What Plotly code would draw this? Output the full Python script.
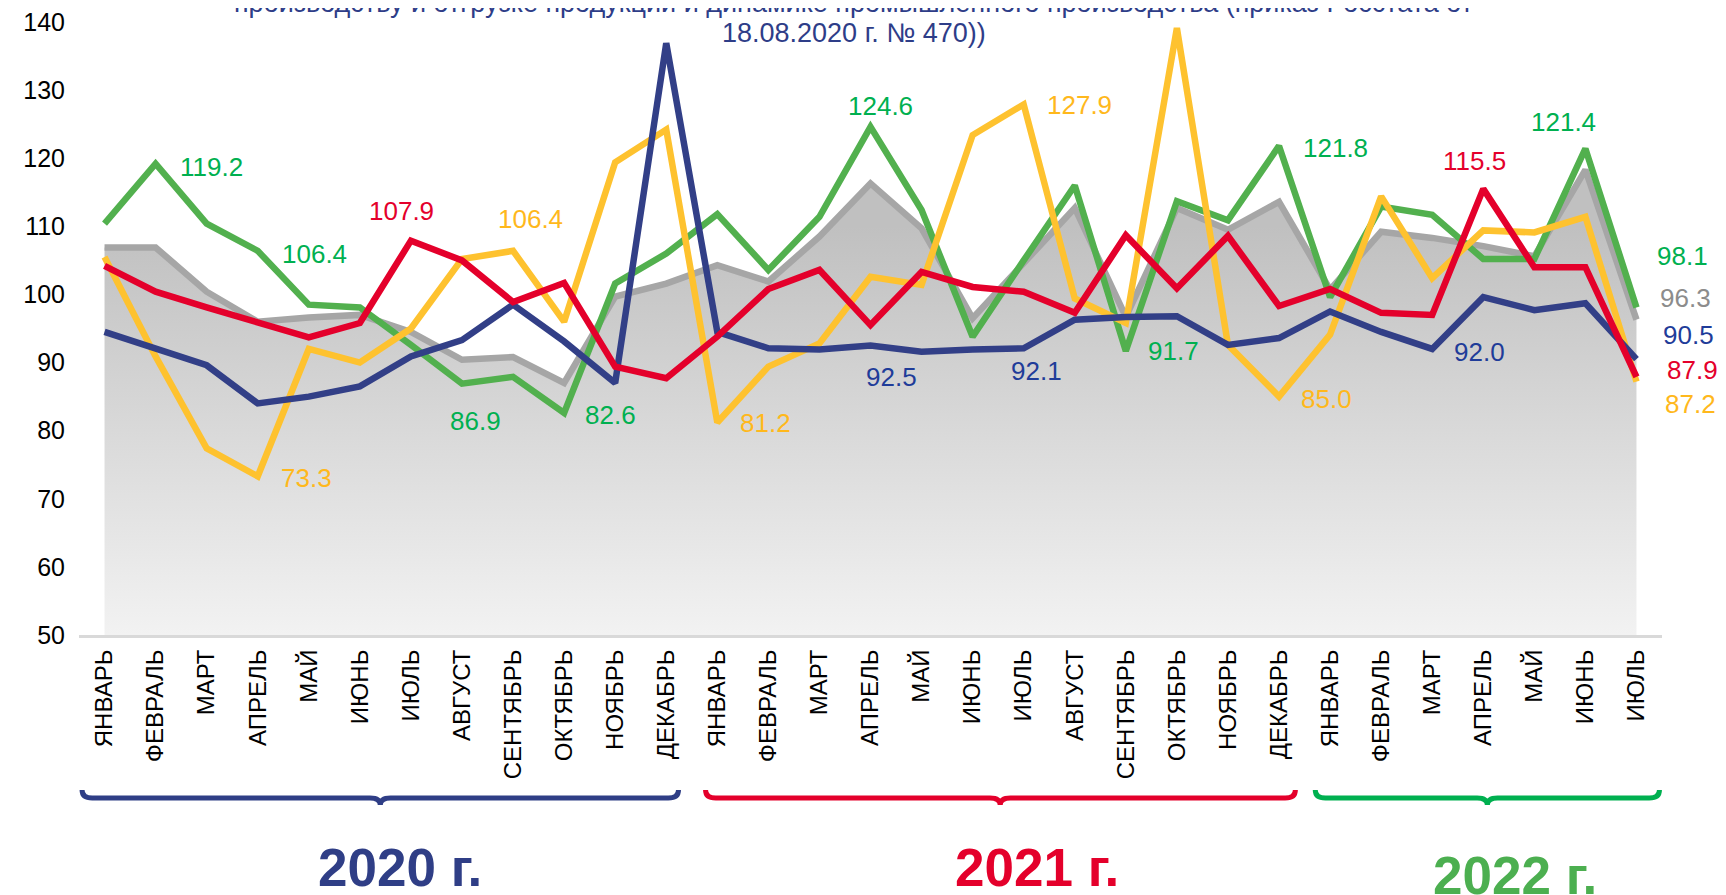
import plotly.graph_objects as go

# ---------------- data ----------------
months = ["ЯНВАРЬ", "ФЕВРАЛЬ", "МАРТ", "АПРЕЛЬ", "МАЙ", "ИЮНЬ", "ИЮЛЬ",
          "АВГУСТ", "СЕНТЯБРЬ", "ОКТЯБРЬ", "НОЯБРЬ", "ДЕКАБРЬ"]
categories = months * 2 + months[:7]
years = ["2020 г.", "2021 г.", "2022 г."]
y_ticks = [50, 60, 70, 80, 90, 100, 110, 120, 130, 140]

gray_vals = [106.9, 106.9, 100.4, 96.0, 96.6, 97.0, 94.5, 90.4, 90.8, 87.0, 99.7, 101.6,
             104.3, 101.9, 108.5, 116.3, 109.7, 96.5, 104.6, 112.7, 96.7, 112.7, 109.5, 113.6,
             100.7, 109.2, 108.3, 107.1, 105.6, 118.3, 96.3]
green_vals = [110.4, 119.2, 110.4, 106.4, 98.5, 98.1, 92.6, 86.9, 87.9, 82.6, 101.6, 106.0,
              111.8, 103.6, 111.4, 124.6, 112.4, 93.8, 105.0, 116.0, 91.7, 113.7, 110.9, 121.8,
              99.6, 112.9, 111.7, 105.2, 105.2, 121.4, 98.1]
yellow_vals = [105.5, 90.9, 77.4, 73.3, 92.0, 90.0, 95.0, 105.2, 106.4, 96.0, 119.4, 124.2,
               81.2, 89.4, 92.8, 102.6, 101.4, 123.4, 127.9, 99.4, 95.8, 139.1, 92.6, 85.0,
               94.1, 114.4, 102.4, 109.4, 109.1, 111.4, 87.2]
navy_vals = [94.5, 92.1, 89.6, 84.0, 85.0, 86.5, 90.9, 93.3, 98.5, 93.1, 87.0, 136.9,
             94.5, 92.1, 91.9, 92.5, 91.6, 91.9, 92.1, 96.3, 96.7, 96.8, 92.6, 93.6,
             97.5, 94.5, 92.0, 99.6, 97.7, 98.7, 90.5]
red_vals = [104.2, 100.4, 98.1, 96.0, 93.7, 95.8, 107.9, 105.0, 98.9, 101.7, 89.4, 87.7,
            93.8, 100.8, 103.6, 95.5, 103.3, 101.1, 100.4, 97.3, 108.7, 100.9, 108.6, 98.3,
            100.8, 97.3, 97.0, 115.5, 104.0, 104.0, 87.9]

title_line1 = "производству и отгрузке продукции и динамике промышленного производства (приказ Росстата от"
title_line2 = "18.08.2020 г. № 470))"

# ---------------- style ----------------
OFF = 8                      # page body margin offset
W, H = 1726 - OFF, 895 - OFF
PL, PR, PT, PB = 79 - OFF, 1662 - OFF, 22 - OFF, 635 - OFF
FONT = "Liberation Sans, Arial, sans-serif"
LW = 6.5

series = {
    "gray":   dict(vals=gray_vals,   line="#a6a6a6", label="#8c8c8c"),
    "green":  dict(vals=green_vals,  line="#52b04e", label="#00b050"),
    "yellow": dict(vals=yellow_vals, line="#fec22f", label="#ffb81c"),
    "navy":   dict(vals=navy_vals,   line="#323f87", label="#1f3c99"),
    "red":    dict(vals=red_vals,    line="#e4002b", label="#e4002b"),
}

# (series, index, dx, dy) label offsets in screen pixels
labels = [
    ("green", 1, 56, 3), ("green", 3, 57, 3), ("yellow", 3, 49, 2),
    ("red", 6, -9, -30), ("yellow", 8, 17, -32), ("green", 7, 14, 37),
    ("green", 9, 46, 2), ("yellow", 12, 48, 1), ("green", 15, 10, -21),
    ("navy", 15, 21, 31), ("navy", 18, 13, 23), ("yellow", 18, 56, 1),
    ("green", 20, 48, 0), ("yellow", 23, 47, 2), ("green", 23, 56, 2),
    ("red", 27, -9, -28), ("navy", 26, 47, 3), ("green", 29, -22, -27),
    ("green", 30, 46, -51), ("gray", 30, 49, -22), ("navy", 30, 52, -24),
    ("red", 30, 56, -7), ("yellow", 30, 54, 22),
]


def ypx(py):
    """page pixel y -> paper coordinate"""
    return (PB - (py - OFF)) / (PB - PT)


def xpx(px):
    """page pixel x -> paper coordinate"""
    return ((px - OFF) - PL) / (PR - PL)


idx = list(range(len(categories)))

fig = go.Figure()
fig.add_trace(go.Scatter(
    x=idx, y=gray_vals, mode="lines",
    line=dict(color=series["gray"]["line"], width=LW),
    fill="tozeroy",
    fillgradient=dict(type="vertical",
                      colorscale=[[0, "#f2f2f2"], [1, "#c0c0c0"]],
                      start=50, stop=110),
    hoverinfo="skip",
))
for key in ["green", "yellow", "navy", "red"]:
    fig.add_trace(go.Scatter(
        x=idx, y=series[key]["vals"], mode="lines",
        line=dict(color=series[key]["line"], width=LW),
        hoverinfo="skip",
    ))

annotations = []
for key, i, dx, dy in labels:
    v = series[key]["vals"][i]
    annotations.append(dict(
        x=i, y=v, xref="x", yref="y", text=f"{v:.1f}", showarrow=False,
        xshift=dx, yshift=-dy, xanchor="center", yanchor="middle",
        font=dict(family=FONT, size=26, color=series[key]["label"]),
    ))

# title (partially cut off at top, as in the source)
for txt, py in [(title_line1, 3), (title_line2, 33)]:
    annotations.append(dict(
        x=xpx(853.5), y=ypx(py), xref="paper", yref="paper", text=txt,
        showarrow=False, xanchor="center", yanchor="middle",
        font=dict(family=FONT, size=27, color="#2e3d88"),
    ))

# year braces and labels
year_colors = ["#2f3e86", "#e4002b", "#4caf50"]
brace_colors = ["#2f3e86", "#e4002b", "#00b050"]
braces = [(-0.44, 11.24, 5.40), (11.77, 23.32, 17.54), (23.71, 30.45, 27.08)]
year_pos = [(5.78, 867.5), (18.26, 867.5), (27.62, 875)]

shapes = []
yt, yl, ytip = ypx(790), ypx(798), ypx(805)
r = 0.2
for (x0, x1, xm), col in zip(braces, brace_colors):
    path = (f"M {x0},{yt} Q {x0},{yl} {x0 + r},{yl} L {xm - r},{yl} "
            f"Q {xm},{yl} {xm},{ytip} Q {xm},{yl} {xm + r},{yl} "
            f"L {x1 - r},{yl} Q {x1},{yl} {x1},{yt}")
    shapes.append(dict(type="path", xref="x", yref="paper", path=path,
                       line=dict(color=col, width=5)))

for yr, (xc, py), col in zip(years, year_pos, year_colors):
    annotations.append(dict(
        x=xc, y=ypx(py), xref="x", yref="paper", text=f"<b>{yr}</b>",
        showarrow=False, xanchor="center", yanchor="middle",
        font=dict(family=FONT, size=53, color=col),
    ))

fig.update_layout(
    width=W, height=H,
    margin=dict(l=PL, r=W - PR, t=PT, b=H - PB, pad=0, autoexpand=False),
    paper_bgcolor="white", plot_bgcolor="white",
    showlegend=False,
    annotations=annotations,
    shapes=shapes,
    xaxis=dict(
        range=[-0.5, len(categories) - 0.5],
        tickmode="array", tickvals=idx, ticktext=categories,
        tickangle=-90, showgrid=False, zeroline=False,
        showline=True, linecolor="#d9d9d9", linewidth=3,
        ticks="", ticklabelstandoff=2, automargin=False,
        tickfont=dict(family=FONT, size=24, color="black"),
    ),
    yaxis=dict(
        range=[50, 140], tickmode="array", tickvals=y_ticks,
        showgrid=False, zeroline=False, showline=False, ticks="",
        ticklabelstandoff=13, ticklabeloverflow="allow", automargin=False,
        tickfont=dict(family=FONT, size=25, color="black"),
    ),
)

fig.write_html("out.html")
